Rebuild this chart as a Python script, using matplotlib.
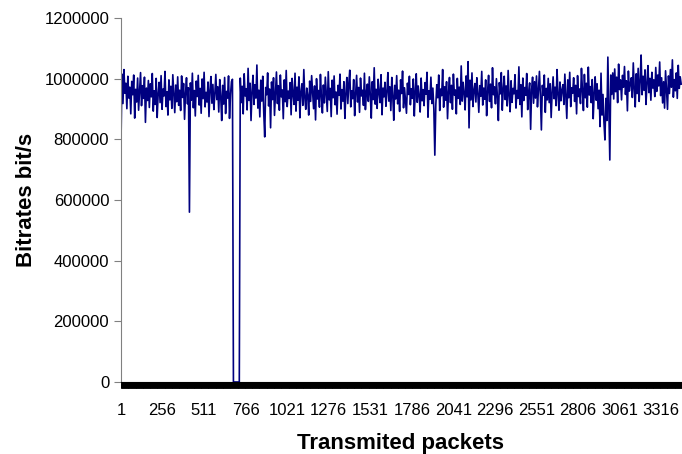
import numpy as np
import matplotlib
matplotlib.use("Agg")
import matplotlib.pyplot as plt
from matplotlib.ticker import FixedLocator, FuncFormatter


# bitrate in kbit/s, one reading every 6 transmitted packets
# first stretch, up to the outage
bitrate_before_gap = [
    790, 1015, 918, 1030, 952, 985, 901, 1008, 936, 972,
    884, 991, 947, 1012, 870, 965, 923, 1002, 896, 958,
    1020, 911, 977, 935, 1005, 856, 969, 928, 994, 905,
    983, 940, 1017, 893, 960, 915, 1001, 872, 949, 988,
    921, 1010, 899, 966, 943, 1024, 908, 957, 880, 996,
    930, 975, 902, 1013, 951, 888, 979, 924, 1006, 912,
    962, 895, 1009, 938, 984, 866, 953, 1003, 917, 970,
    560, 986, 929, 1018, 904, 961, 877, 992, 941, 1011,
    913, 968, 886, 999, 934, 1021, 907, 955, 923, 989,
    875, 963, 1007, 919, 981, 898, 950, 1014, 931, 973,
    890, 997, 942, 862, 978, 916, 1004, 885, 958, 936,
    1009, 869, 946, 990, 998,
]

# outage: nothing received
bitrate_gap = [0, 0, 0, 0, 0, 0, 0]

# after the outage until the end
bitrate_after_gap = [
    1002, 921, 975, 884, 1016, 943, 967, 897, 1034, 928,
    985, 862, 958, 1011, 915, 980, 936, 1045, 903, 962,
    874, 995, 926, 1008, 889, 808, 971, 947, 1019, 910,
    966, 838, 989, 931, 1003, 879, 954, 1022, 918, 977,
    896, 1012, 940, 963, 868, 996, 924, 1027, 908, 959,
    935, 987, 881, 1001, 948, 915, 1018, 893, 972, 929,
    1006, 871, 957, 983, 912, 1030, 938, 899, 969, 944,
    880, 992, 925, 1010, 953, 901, 976, 864, 1000, 933,
    961, 906, 1014, 942, 887, 979, 920, 1005, 948, 892,
    1023, 930, 968, 875, 995, 937, 1009, 914, 956, 883,
    978, 945, 1015, 900, 964, 926, 990, 869, 951, 1004,
    918, 983, 1028, 907, 960, 934, 997, 878, 949, 1011,
    923, 971, 889, 1002, 943, 962, 912, 1018, 898, 955,
    982, 925, 1006, 947, 870, 990, 931, 1036, 916, 965,
    902, 998, 953, 921, 1013, 881, 969, 940, 988, 909,
    957, 1020, 926, 973, 895, 1004, 944, 863, 978, 933,
    1010, 917, 962, 892, 996, 951, 1025, 904, 970, 929,
    886, 985, 948, 1008, 914, 967, 935, 999, 877, 958,
    1016, 922, 976, 943, 890, 1002, 927, 964, 911, 987,
    949, 1021, 873, 960, 932, 1005, 918, 969, 901, 748,
    912, 980, 937, 1012, 895, 966, 944, 1030, 906, 973,
    929, 990, 868, 957, 1004, 921, 978, 899, 1015, 946,
    963, 884, 1001, 935, 972, 915, 1042, 926, 988, 953,
    897, 1009, 940, 1056, 838, 995, 930, 1019, 908, 961,
    984, 923, 1003, 951, 889, 977, 942, 1024, 913, 969,
    932, 996, 878, 958, 1011, 925, 982, 904, 1036, 947,
    973, 917, 1000, 939, 862, 987, 950, 1020, 896, 964,
    1008, 931, 976, 910, 1027, 944, 891, 993, 922, 968,
    950, 1013, 903, 961, 935, 1039, 915, 980, 874, 1002,
    928, 971, 945, 1017, 898, 956, 986, 833, 964, 1005,
    919, 990, 936, 1009, 907, 962, 1024, 942, 831, 978,
    945, 1012, 889, 968, 930, 1001, 921, 983, 872, 955,
    1006, 934, 972, 911, 1030, 948, 896, 989, 927, 963,
    980, 915, 1015, 944, 869, 996, 937, 1021, 908, 970,
    952, 1003, 925, 978, 884, 1010, 941, 966, 918, 1034,
    960, 895, 1014, 937, 985, 906, 1038, 946, 974, 921,
    997, 868, 952, 1006, 929, 983, 901, 962, 842, 1018,
    880, 948, 856, 798, 935, 862, 1071, 905, 732, 1012,
    948, 1019, 933, 1032, 957, 1005, 921, 1048, 964, 996,
    930, 1011, 972, 1040, 948, 993, 894, 1025, 959, 983,
    1003, 938, 1052, 966, 907, 1016, 951, 1034, 925, 990,
    1078, 947, 1008, 962, 1029, 915, 985, 1043, 954, 1001,
    929, 1021, 969, 996, 941, 1037, 958, 1012, 976, 1055,
    944, 1003, 920, 990, 903, 1026, 962, 899, 1009, 951,
    1030, 972, 1062, 939, 997, 960, 1019, 935, 1044, 968,
    1006, 982,
]

SAMPLE_STEP = 6
N_PACKETS = 3444
x_ticks = list(range(1, 3317, 255))
y_ticks = [0, 200000, 400000, 600000, 800000, 1000000, 1200000]

bitrate = np.array(bitrate_before_gap + bitrate_gap + bitrate_after_gap) * 1000
packets = 1 + SAMPLE_STEP * np.arange(len(bitrate))

plt.rcParams["font.family"] = ["Liberation Sans", "DejaVu Sans"]

fig = plt.figure(figsize=(6.82, 4.54), dpi=100)
ax = fig.add_axes([121 / 682, 72 / 454, 561 / 682, 364 / 454])

ax.plot(packets, bitrate, color="#000080", linewidth=1.2)

ax.set_xlim(1, N_PACKETS)
ax.set_ylim(0, 1200000)

ax.xaxis.set_major_locator(FixedLocator(x_ticks))
ax.xaxis.set_minor_locator(FixedLocator(np.arange(1, N_PACKETS + 1)))
ax.yaxis.set_major_locator(FixedLocator(y_ticks))
ax.yaxis.set_major_formatter(FuncFormatter(lambda v, p: f"{int(v)}"))

ax.tick_params(axis="x", which="both", direction="out", length=4.3,
               width=0.5, color="black", labelsize=12, pad=10.5)
ax.tick_params(axis="y", direction="out", length=5, width=0.8,
               color="#808080", labelsize=12, pad=3.5)

for side in ["top", "right"]:
    ax.spines[side].set_visible(False)
ax.spines["left"].set_color("#808080")
ax.spines["left"].set_linewidth(0.8)
ax.spines["bottom"].set_color("black")

ax.set_xlabel("Transmited packets", fontsize=16, fontweight="bold")
ax.set_ylabel("Bitrates bit/s", fontsize=16, fontweight="bold")
ax.xaxis.set_label_coords(0.499, -0.14)
ax.yaxis.set_label_coords(-0.15, 0.5)

fig.savefig("out.png", dpi=100)
plt.close(fig)
